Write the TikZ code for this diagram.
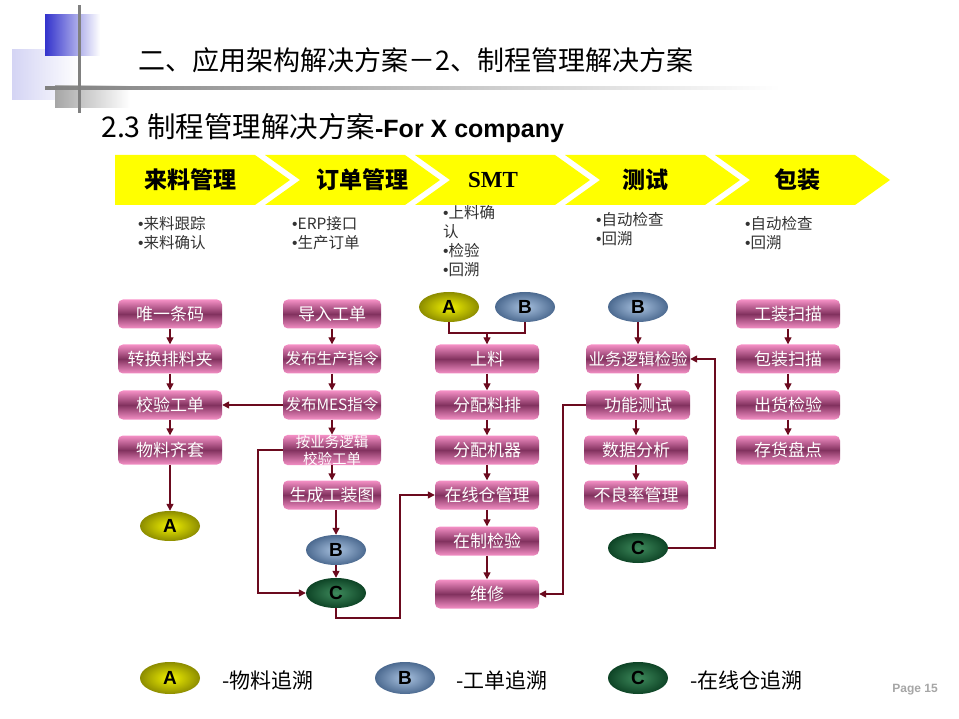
\documentclass[tikz,border=0pt]{standalone}
\usepackage{fontspec}
\setmainfont{Liberation Sans}
\newfontfamily\cjk{Noto Sans CJK SC}
\newfontfamily\latin{Liberation Sans}
\newfontfamily\serifb{Liberation Serif}
\newcommand{\bul}{{\latin •}}
\usetikzlibrary{arrows.meta,shapes.geometric,calc}
\definecolor{lineRed}{HTML}{6B0A1E}
\definecolor{pinkL}{HTML}{F590C6}
\definecolor{mauve}{HTML}{82325F}
\definecolor{chevY}{HTML}{FFFF00}
\definecolor{blueSq}{HTML}{3333CC}
\definecolor{lavSq}{HTML}{D4D4F4}
\definecolor{graySq}{HTML}{A6A6A6}
\definecolor{aIn}{HTML}{F2F200}
\definecolor{aOut}{HTML}{8C8C00}
\definecolor{bIn}{HTML}{A9C2E0}
\definecolor{bOut}{HTML}{4C6A90}
\definecolor{cIn}{HTML}{3E8A5C}
\definecolor{cOut}{HTML}{0E4426}
\definecolor{bulletTxt}{HTML}{333333}
\tikzset{
  pbox/.style={rectangle, rounded corners=5pt, minimum width=104pt, minimum height=29pt,
    inner sep=0pt, top color=pinkL, bottom color=pinkL, middle color=mauve,
    text=white, font=\cjk\fontsize{17}{19}\selectfont},
  pboxs/.style={pbox, font=\cjk\fontsize{15.5}{17}\selectfont},
  oval/.style={ellipse, minimum width=60pt, minimum height=30pt, inner sep=0pt,
    font=\bfseries\fontsize{19}{19}\selectfont},
  ovA/.style={oval, inner color=aIn, outer color=aOut},
  ovB/.style={oval, inner color=bIn, outer color=bOut},
  ovC/.style={oval, inner color=cIn, outer color=cOut},
  conn/.style={draw=lineRed, line width=1.4pt, -{Triangle[length=7pt,width=7pt]}},
  plainline/.style={draw=lineRed, line width=1.4pt},
  chev/.style={fill=chevY, draw=none},
  chevlbl/.style={font=\cjk\bfseries\fontsize{23}{23}\selectfont, text=black},
  blist/.style={anchor=north west, inner sep=0pt, align=left, text=bulletTxt,
    font=\cjk\fontsize{15.5}{19}\selectfont},
  legtxt/.style={anchor=west, inner sep=0pt, font=\cjk\fontsize{21}{21}\selectfont},
}
\begin{document}
\begin{tikzpicture}[x=1pt,y=-1pt]
\useasboundingbox (0,0) rectangle (959,719);
\fill[white] (0,0) rectangle (959,719);

% header decoration
\fill[left color=lavSq, right color=white] (12,50) rectangle (80,100);
\fill[left color=blueSq, right color=white] (45,15) rectangle (100,56);
\fill[left color=graySq, right color=white] (55,86) rectangle (130,108);
\fill[left color=black!50, right color=white] (45,86.5) rectangle (780,90);
\fill[black!50] (77.5,5) rectangle (80.5,113);

% titles
\node[anchor=west, inner sep=0pt, font=\cjk\fontsize{27}{27}\selectfont] (title) at (138,60) {二、应用架构解决方案－2、制程管理解决方案};
\node[anchor=west, inner sep=0pt] (subtitle) at (101,128) {{\cjk\fontsize{28.5}{28}\selectfont 2.3 制程管理解决方案}{\bfseries\fontsize{25}{25}\selectfont -For X company}};

% chevrons
\fill[chev] (115,155) -- (255,155) -- (290,180) -- (255,205) -- (115,205) -- cycle;
\foreach \L in {265,415,565,715}{
  \fill[chev] (\L,155) -- (\L+140,155) -- (\L+175,180) -- (\L+140,205) -- (\L,205) -- (\L+35,180) -- cycle;
}
\node[chevlbl] (h1) at (190,180) {来料管理};
\node[chevlbl] (h2) at (362,180) {订单管理};
\node[font=\serifb\bfseries\fontsize{23}{23}\selectfont] (h3) at (493,180) {SMT};
\node[chevlbl] (h4) at (645,180) {测试};
\node[chevlbl] (h5) at (797,180) {包装};

% bullet lists
\node[blist] (l1) at (138,216) {\bul 来料跟踪\\\bul 来料确认};
\node[blist] (l2) at (292,216) {\bul ERP接口\\\bul 生产订单};
\node[blist] (l3) at (443,205) {\bul 上料确\\认\\\bul 检验\\\bul 回溯};
\node[blist] (l4) at (596,212) {\bul 自动检查\\\bul 回溯};
\node[blist] (l5) at (745,216) {\bul 自动检查\\\bul 回溯};

% column 1
\node[pbox] (b11) at (170,314) {唯一条码};
\node[pbox] (b12) at (170,359) {转换排料夹};
\node[pbox] (b13) at (170,405) {校验工单};
\node[pbox] (b14) at (170,450) {物料齐套};
\node[ovA] (A1) at (170,526) {A};

% column 2
\node[pbox, minimum width=98pt] (b21) at (332,314) {导入工单};
\node[pboxs, minimum width=98pt] (b22) at (332,359) {发布生产指令};
\node[pboxs, minimum width=98pt] (b23) at (332,405) {发布MES指令};
\node[pboxs, minimum width=98pt, align=center, font=\cjk\fontsize{14.5}{17}\selectfont] (b24) at (332,450) {按业务逻辑\\校验工单};
\node[pbox, minimum width=98pt] (b25) at (332,495) {生成工装图};
\node[ovB] (B2) at (336,550) {B};
\node[ovC] (C2) at (336,593) {C};

% column 3
\node[ovA] (A3) at (449,307) {A};
\node[ovB] (B3) at (525,307) {B};
\node[pbox] (b31) at (487,359) {上料};
\node[pbox] (b32) at (487,405) {分配料排};
\node[pbox] (b33) at (487,450) {分配机器};
\node[pbox] (b34) at (487,495) {在线仓管理};
\node[pbox] (b35) at (487,541) {在制检验};
\node[pbox] (b36) at (487,594) {维修};

% column 4
\node[ovB] (B4) at (638,307) {B};
\node[pboxs, font=\cjk\fontsize{16.5}{18}\selectfont] (b41) at (638,359) {业务逻辑检验};
\node[pbox] (b42) at (638,405) {功能测试};
\node[pbox] (b43) at (636,450) {数据分析};
\node[pbox] (b44) at (636,495) {不良率管理};
\node[ovC] (C4) at (638,548) {C};

% column 5
\node[pbox] (b51) at (788,314) {工装扫描};
\node[pbox] (b52) at (788,359) {包装扫描};
\node[pbox] (b53) at (788,405) {出货检验};
\node[pbox] (b54) at (788,450) {存货盘点};

% connectors column 1
\draw[conn] (b11) -- (b12);
\draw[conn] (b12) -- (b13);
\draw[conn] (b13) -- (b14);
\draw[conn] (b14) -- (A1);
% column 2
\draw[conn] (b21) -- (b22);
\draw[conn] (b22) -- (b23);
\draw[conn] (b23) -- (b24);
\draw[conn] (b24) -- (b25);
\draw[conn] (b25.south -| B2) -- (B2);
\draw[conn] (B2) -- (C2);
\draw[conn] (b23.west) -- (b13.east);
\coordinate (k0) at (258,0);
\draw[conn] (b24.west) -- (b24.west -| k0) |- (C2.west);
\coordinate (k1) at (400,618);
\draw[conn] (C2.south) |- (k1) |- (b34.west);
% column 3
\coordinate (j3) at (487,333);
\draw[plainline] (A3.south) |- (j3);
\draw[plainline] (B3.south) |- (j3);
\draw[conn] (j3) -- (b31.north);
\draw[conn] (b31) -- (b32);
\draw[conn] (b32) -- (b33);
\draw[conn] (b33) -- (b34);
\draw[conn] (b34) -- (b35);
\draw[conn] (b35) -- (b36);
% column 4
\draw[conn] (B4) -- (b41);
\draw[conn] (b41) -- (b42);
\draw[conn] (b42.south -| b43) -- (b43);
\draw[conn] (b43) -- (b44);
\coordinate (k2) at (715,0);
\draw[conn] (C4.east) -- (C4.east -| k2) |- (b41.east);
\coordinate (k3) at (563,0);
\draw[conn] (b42.west) -- (b42.west -| k3) |- (b36.east);
% column 5
\draw[conn] (b51) -- (b52);
\draw[conn] (b52) -- (b53);
\draw[conn] (b53) -- (b54);

% legend
\node[ovA, minimum width=60pt, minimum height=32pt] (LA) at (170,678) {A};
\node[legtxt] (TA) at (222,680) {-物料追溯};
\node[ovB, minimum width=60pt, minimum height=32pt] (LB) at (405,678) {B};
\node[legtxt] (TB) at (456,680) {-工单追溯};
\node[ovC, minimum width=60pt, minimum height=32pt] (LC) at (638,678) {C};
\node[legtxt] (TC) at (690,680) {-在线仓追溯};
\node[text=black!35, font=\bfseries\fontsize{12}{12}\selectfont, inner sep=0pt] (pg) at (915,690) {Page 15};
\end{tikzpicture}
\end{document}
